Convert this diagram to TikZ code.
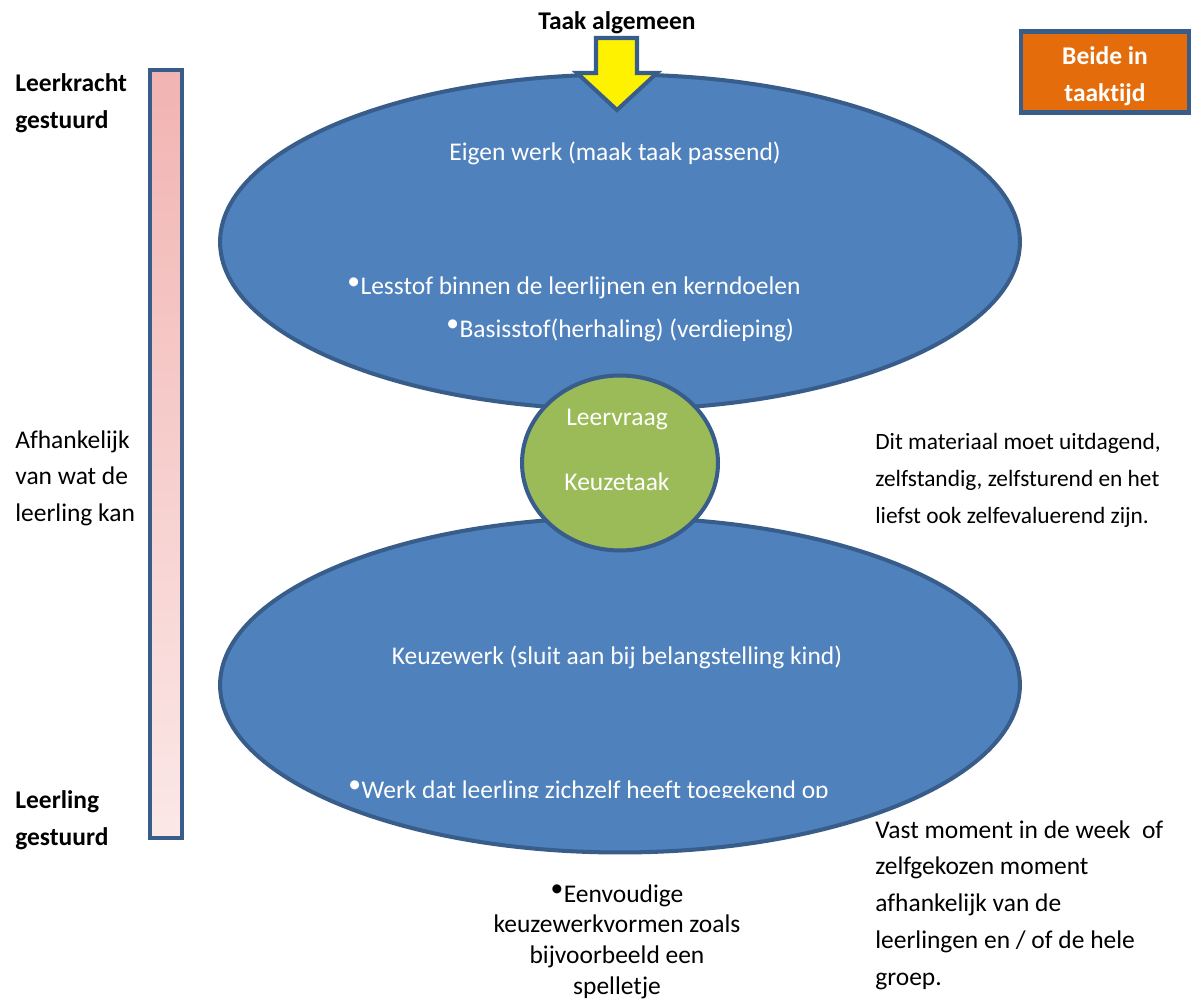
\documentclass[tikz,border=0pt]{standalone}
\usepackage{fontspec}
\setmainfont{Carlito}[Ligatures=NoCommon]
\usetikzlibrary{shapes.geometric}

\definecolor{vakblauw}{RGB}{79,129,189}
\definecolor{randblauw}{RGB}{56,93,138}
\definecolor{vakgroen}{RGB}{155,187,89}
\definecolor{vakoranje}{RGB}{228,108,10}
\definecolor{roosdonker}{RGB}{241,180,178}
\definecolor{rooslicht}{RGB}{251,232,231}

\tikzset{
  vlak/.style={shape=ellipse,draw=randblauw,line width=2.3pt,fill=vakblauw,minimum width=16cm,minimum height=6.7cm},
  wit/.style={text=white,font=\fontsize{14.5}{21}\selectfont,inner sep=0pt},
  zwart/.style={text=black,font=\fontsize{14.5}{21}\selectfont,inner sep=0pt},
  dik/.style={font=\fontsize{14.5}{21}\selectfont\bfseries,inner sep=0pt}
}
\newcommand{\opsom}{\raisebox{0.45ex}{\textbullet}\kern0.3pt}

\begin{document}
\begin{tikzpicture}[x=0.02cm,y=-0.02cm]
\useasboundingbox (0,0) rectangle (1191,1000);

\node[vlak] (eigen) at (620,242) {};
\node[vlak] (keuze) at (620,685) {};
\node[shape=ellipse,draw=randblauw,line width=2.3pt,fill=vakgroen,minimum width=3.92cm,minimum height=3.5cm] (midden) at (620,463) {};

\filldraw[randblauw,line width=2.3pt,fill=yellow,line join=miter] (596,38) -- (637,38) -- (637,73) -- (657,73) -- (617,110) -- (577,73) -- (596,73) -- cycle;
\node[dik] (taak) at (617,23) {Taak algemeen};

\shade[top color=roosdonker,bottom color=rooslicht] (150,70) rectangle (182,838);
\draw[randblauw,line width=2.3pt] (150,70) rectangle (182,838);

\node[draw=randblauw,line width=2.3pt,fill=vakoranje,minimum width=3.36cm,minimum height=1.62cm,inner sep=0pt] (beide) at (1105,72) {};
\node[dik,text=white,align=center,yshift=-0.08cm] (beidetekst) at (beide) {Beide in\\taaktijd};

\node[wit] (eigentitel) at (615,153) {Eigen werk (maak taak passend)};
\node[wit,anchor=west] (lesstof) at (347,288) {\opsom Lesstof binnen de leerlijnen en kerndoelen};
\node[wit,anchor=west] (basis) at (446,330) {\opsom Basisstof(herhaling) (verdieping)};

\node[wit] (leervraag) at (617,420) {Leervraag};
\node[wit] (keuzetaak) at (617,482) {Keuzetaak};

\node[wit] (keuzetitel) at (617,657) {Keuzewerk (sluit aan bij belangstelling kind)};
\begin{scope}
\clip (0,0) rectangle (1191,797);
\node[wit,anchor=base west] (werk) at (348,798) {\opsom Werk dat leerling zichzelf heeft toegekend op};
\end{scope}

\node[dik,align=left,anchor=north west] (leerkracht) at (15,73) {Leerkracht\\gestuurd};
\node[zwart,align=left,anchor=north west] (afhankelijk) at (15,430) {Afhankelijk\\van wat de\\leerling kan};
\node[dik,align=left,anchor=north west] (leerling) at (15,790) {Leerling\\gestuurd};

\node[zwart,align=left,anchor=north west,font=\fontsize{13.3}{21}\selectfont] (materiaal) at (875,433) {Dit materiaal moet uitdagend,\\zelfstandig, zelfsturend en het\\liefst ook zelfevaluerend zijn.};
\node[zwart,align=left,anchor=north west] (moment) at (875,820) {Vast moment in de week\ \ of\\zelfgekozen moment\\afhankelijk van de\\leerlingen en / of de hele\\groep.};
\node[zwart,align=center,anchor=north,font=\fontsize{14.5}{17.6}\selectfont] (eenvoudig) at (617,884) {\opsom Eenvoudige\\keuzewerkvormen zoals\\bijvoorbeeld een\\spelletje};
\end{tikzpicture}
\end{document}
